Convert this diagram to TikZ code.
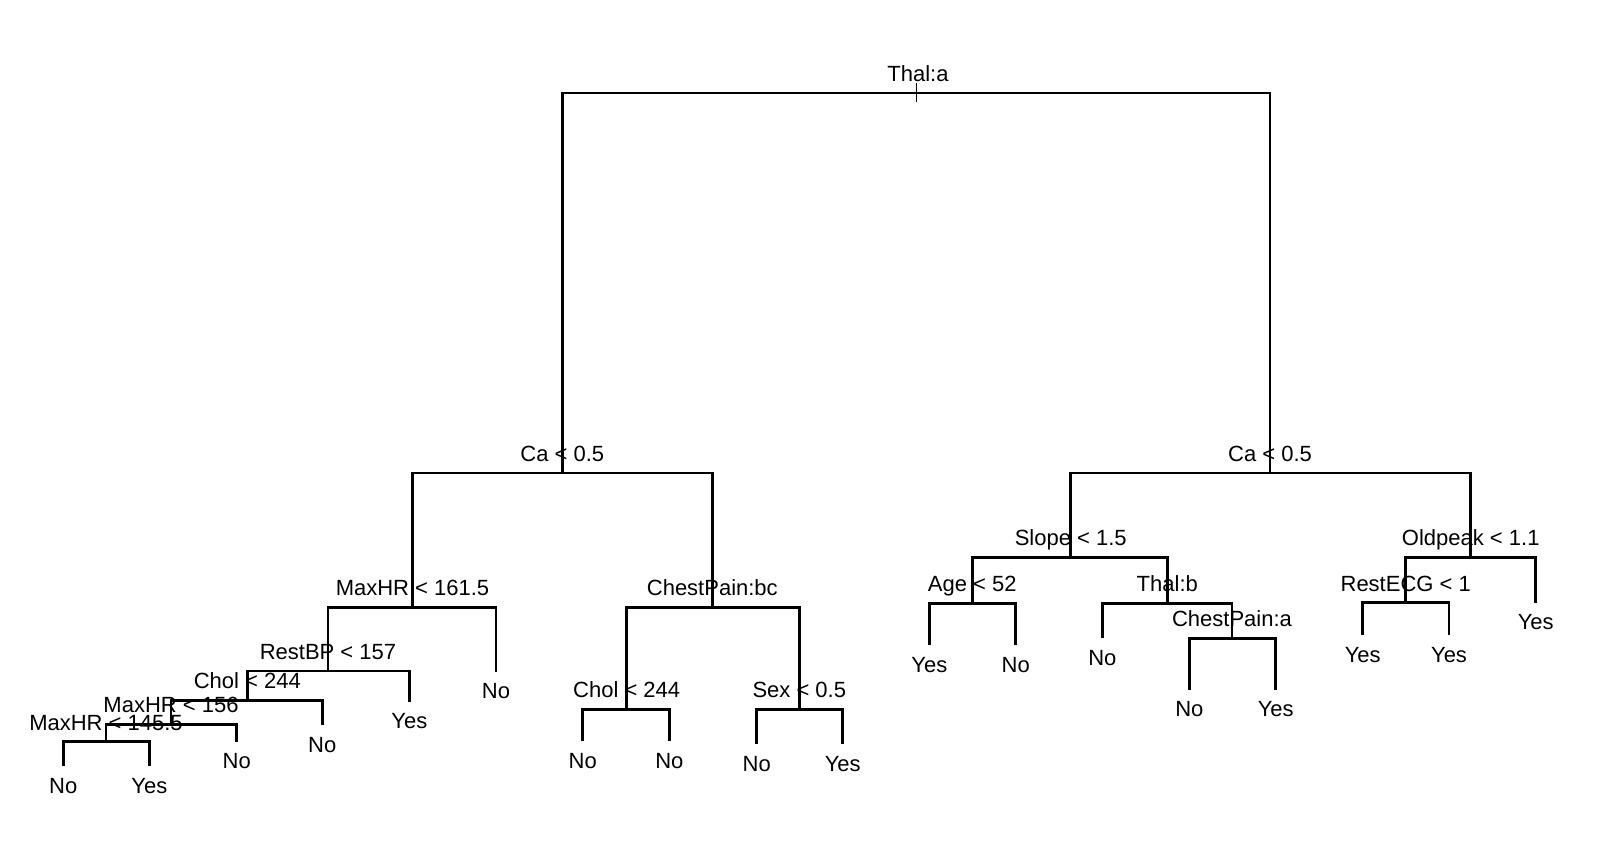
\documentclass[tikz,border=0pt]{standalone}
\usepackage{fontspec}
\setmainfont{Liberation Sans}
\usetikzlibrary{calc}
\begin{document}
\begin{tikzpicture}[x=0.5pt,y=-0.5pt,
  branch/.style={line width=1.4pt,line join=miter},
  ticker/.style={line width=0.5pt},
  splitlab/.style={anchor=base,inner sep=0pt,font=\fontsize{11}{13}\selectfont},
  leaflab/.style={anchor=base,inner sep=0pt,font=\fontsize{11}{13}\selectfont}]
\useasboundingbox[fill=white] (0,0) rectangle (1598,854);
% split points
\coordinate (root) at (916,93);
\coordinate (L1) at (562.3,473);
\coordinate (R1) at (1270,473);
\coordinate (A) at (412.5,607.3);
\coordinate (B) at (712.3,607.3);
\coordinate (C) at (328,671);
\coordinate (D) at (247.3,700.3);
\coordinate (E) at (171,724.3);
\coordinate (F) at (106,741.7);
\coordinate (G) at (626.7,709.3);
\coordinate (H) at (799.3,709.3);
\coordinate (I) at (1070.7,557.3);
\coordinate (J) at (1470.7,557.3);
\coordinate (K) at (972.3,603.3);
\coordinate (L) at (1167.3,603.3);
\coordinate (M) at (1232,638.3);
\coordinate (N) at (1405.7,602.7);
% leaf ends
\coordinate (lA) at (496,671.7);
\coordinate (lC) at (409.3,701.7);
\coordinate (lD) at (322.3,725);
\coordinate (lE) at (236.7,741.7);
\coordinate (lF1) at (63.3,766);
\coordinate (lF2) at (149.3,766);
\coordinate (lG1) at (582.7,741);
\coordinate (lG2) at (669.3,741);
\coordinate (lH1) at (756.7,744.3);
\coordinate (lH2) at (842.7,744.3);
\coordinate (lK1) at (929.3,645);
\coordinate (lK2) at (1015.7,645);
\coordinate (lL) at (1102.3,638.3);
\coordinate (lM1) at (1189.3,689.5);
\coordinate (lM2) at (1275.7,689.5);
\coordinate (lJ) at (1535.7,602.7);
\coordinate (lN1) at (1362.7,635);
\coordinate (lN2) at (1449,635);
% branches
\draw[branch] (root) -| (L1);
\draw[branch] (root) -| (R1);
\draw[branch] (L1) -| (A);
\draw[branch] (L1) -| (B);
\draw[branch] (A) -| (C);
\draw[branch] (A) -| (lA);
\draw[branch] (C) -| (D);
\draw[branch] (C) -| (lC);
\draw[branch] (D) -| (E);
\draw[branch] (D) -| (lD);
\draw[branch] (E) -| (F);
\draw[branch] (E) -| (lE);
\draw[branch] (F) -| (lF1);
\draw[branch] (F) -| (lF2);
\draw[branch] (B) -| (G);
\draw[branch] (B) -| (H);
\draw[branch] (G) -| (lG1);
\draw[branch] (G) -| (lG2);
\draw[branch] (H) -| (lH1);
\draw[branch] (H) -| (lH2);
\draw[branch] (R1) -| (I);
\draw[branch] (R1) -| (J);
\draw[branch] (I) -| (K);
\draw[branch] (I) -| (L);
\draw[branch] (K) -| (lK1);
\draw[branch] (K) -| (lK2);
\draw[branch] (L) -| (lL);
\draw[branch] (L) -| (M);
\draw[branch] (M) -| (lM1);
\draw[branch] (M) -| (lM2);
\draw[branch] (J) -| (N);
\draw[branch] (J) -| (lJ);
\draw[branch] (N) -| (lN1);
\draw[branch] (N) -| (lN2);
% root tick
\coordinate (tickT) at ($(root)+(0,-10)$);
\coordinate (tickB) at ($(root)+(0,9)$);
\draw[ticker] (tickT) -- (tickB);
% split labels
\node[splitlab] (sroot) at ($(root)+(2,-11.5)$) {Thal:a};
\node[splitlab] (sL1) at ($(L1)+(0,-11.5)$) {Ca < 0.5};
\node[splitlab] (sR1) at ($(R1)+(0,-11.5)$) {Ca < 0.5};
\node[splitlab] (sA) at ($(A)+(0,-11.5)$) {MaxHR < 161.5};
\node[splitlab] (sB) at ($(B)+(0,-11.5)$) {ChestPain:bc};
\node[splitlab] (sC) at ($(C)+(0,-11.5)$) {RestBP < 157};
\node[splitlab] (sD) at ($(D)+(0,-11.5)$) {Chol < 244};
\node[splitlab] (sE) at ($(E)+(0,-11.5)$) {MaxHR < 156};
\node[splitlab] (sF) at ($(F)+(0,-11.5)$) {MaxHR < 145.5};
\node[splitlab] (sG) at ($(G)+(0,-11.5)$) {Chol < 244};
\node[splitlab] (sH) at ($(H)+(0,-11.5)$) {Sex < 0.5};
\node[splitlab] (sI) at ($(I)+(0,-12)$) {Slope < 1.5};
\node[splitlab] (sJ) at ($(J)+(0,-12)$) {Oldpeak < 1.1};
\node[splitlab] (sK) at ($(K)+(0,-12)$) {Age < 52};
\node[splitlab] (sL) at ($(L)+(0,-11.5)$) {Thal:b};
\node[splitlab] (sM) at ($(M)+(0,-11.5)$) {ChestPain:a};
\node[splitlab] (sN) at ($(N)+(0,-11.5)$) {RestECG < 1};
% leaf labels
\node[leaflab] (tA) at ($(lA)+(0,27)$) {No};
\node[leaflab] (tC) at ($(lC)+(0,27)$) {Yes};
\node[leaflab] (tD) at ($(lD)+(0,27)$) {No};
\node[leaflab] (tE) at ($(lE)+(0,27)$) {No};
\node[leaflab] (tF1) at ($(lF1)+(0,27)$) {No};
\node[leaflab] (tF2) at ($(lF2)+(0,27)$) {Yes};
\node[leaflab] (tG1) at ($(lG1)+(0,27)$) {No};
\node[leaflab] (tG2) at ($(lG2)+(0,27)$) {No};
\node[leaflab] (tH1) at ($(lH1)+(0,27)$) {No};
\node[leaflab] (tH2) at ($(lH2)+(0,27)$) {Yes};
\node[leaflab] (tK1) at ($(lK1)+(0,27)$) {Yes};
\node[leaflab] (tK2) at ($(lK2)+(0,27)$) {No};
\node[leaflab] (tL) at ($(lL)+(0,27)$) {No};
\node[leaflab] (tM1) at ($(lM1)+(0,27)$) {No};
\node[leaflab] (tM2) at ($(lM2)+(0,27)$) {Yes};
\node[leaflab] (tJ) at ($(lJ)+(0,27)$) {Yes};
\node[leaflab] (tN1) at ($(lN1)+(0,27)$) {Yes};
\node[leaflab] (tN2) at ($(lN2)+(0,27)$) {Yes};
\end{tikzpicture}
\end{document}
